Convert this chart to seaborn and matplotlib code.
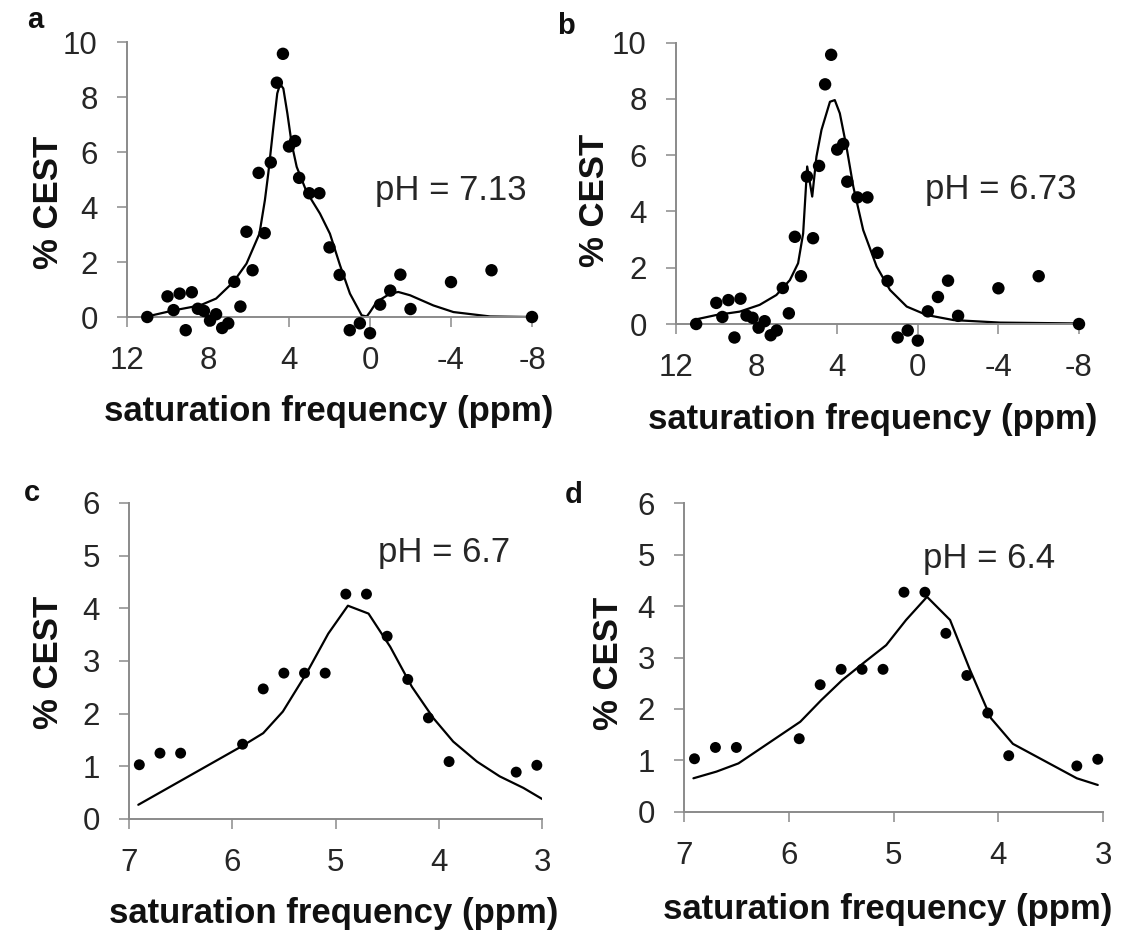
import matplotlib
matplotlib.use('Agg')
import matplotlib.pyplot as plt
import seaborn as sns

# measured CEST spectra, panels a/b share the same points
x_ab = [11.0, 10.0, 9.7, 9.4, 9.1, 8.8, 8.5, 8.2, 7.9, 7.6, 7.3, 7.0, 6.7, 6.4, 6.1, 5.8,
        5.5, 5.2, 4.9, 4.6, 4.3, 4.0, 3.7, 3.5, 3.0, 2.5, 2.0, 1.5, 1.0, 0.5, 0.0, -0.5,
        -1.0, -1.5, -2.0, -4.0, -6.0, -8.0]
y_ab = [0.0, 0.75, 0.25, 0.85, -0.48, 0.9, 0.3, 0.22, -0.13, 0.1, -0.4, -0.23, 1.28, 0.38,
        3.1, 1.7, 5.24, 3.05, 5.62, 8.52, 9.57, 6.2, 6.4, 5.06, 4.5, 4.5, 2.53, 1.53, -0.48,
        -0.23, -0.59, 0.45, 0.96, 1.54, 0.29, 1.27, 1.7, 0.0]

# fitted curves for a and b
xa_fit = [11.0, 9.7, 8.4, 7.6, 6.75, 6.1, 5.46, 5.19, 5.02, 4.77, 4.58, 4.44, 4.28, 4.08,
          3.87, 3.62, 3.13, 2.47, 1.98, 1.48, 0.99, 0.41, 0.16, 0.0, -0.33, -0.99, -1.4,
          -1.98, -3.13, -4.12, -5.93, -8.0]
ya_fit = [0.02, 0.24, 0.42, 0.67, 1.27, 1.94, 3.03, 4.25, 5.24, 6.92, 8.13, 8.47, 8.31, 7.40,
          6.31, 5.46, 4.55, 3.76, 3.03, 1.88, 0.85, 0.06, 0.02, 0.18, 0.55, 0.85, 0.91,
          0.79, 0.42, 0.18, 0.02, 0.0]
xb_fit = [10.97, 10.0, 8.84, 7.85, 7.02, 6.35, 5.94, 5.69, 5.49, 5.24, 5.03, 4.78, 4.36, 4.12,
          3.87, 3.54, 3.2, 2.71, 2.04, 1.38, 0.55, -0.44, -1.77, -4.09, -8.0]
yb_fit = [0.17, 0.32, 0.44, 0.68, 1.03, 1.56, 2.16, 3.22, 5.6, 4.53, 5.95, 6.9, 7.9, 7.96,
          7.49, 6.30, 4.88, 3.34, 2.04, 1.21, 0.62, 0.32, 0.14, 0.05, 0.02]

# panels c/d share the same points
x_cd = [6.9, 6.7, 6.5, 5.9, 5.7, 5.5, 5.3, 5.1, 4.9, 4.7, 4.5, 4.3, 4.1, 3.9, 3.25, 3.05]
y_cd = [1.03, 1.25, 1.25, 1.42, 2.47, 2.77, 2.77, 2.77, 4.27, 4.27, 3.47, 2.65, 1.92, 1.09,
        0.89, 1.02]
xc_fit = [6.91, 5.90, 5.70, 5.51, 5.28, 5.07, 4.88, 4.68, 4.47, 4.26, 4.05, 3.86, 3.63, 3.41,
          3.18, 2.99]
yc_fit = [0.27, 1.39, 1.63, 2.04, 2.77, 3.52, 4.05, 3.90, 3.27, 2.51, 1.91, 1.47, 1.09, 0.81,
          0.59, 0.37]
xd_fit = [6.91, 6.69, 6.48, 5.89, 5.69, 5.49, 5.27, 5.07, 4.88, 4.68, 4.46, 4.27, 4.07, 3.86,
          3.25, 3.05]
yd_fit = [0.65, 0.78, 0.94, 1.75, 2.17, 2.56, 2.92, 3.24, 3.73, 4.18, 3.73, 2.76, 1.82, 1.32,
          0.65, 0.52]

xticks_ab = [12, 8, 4, 0, -4, -8]
xtick_labels_ab = ['12', '8', '4', '0', '-4', '-8']
yticks_ab = [0, 2, 4, 6, 8, 10]
xticks_cd = [7, 6, 5, 4, 3]
yticks_cd = [0, 1, 2, 3, 4, 5, 6]
ph_labels = ['pH = 7.13', 'pH = 6.73', 'pH = 6.7', 'pH = 6.4']
panel_letters = ['a', 'b', 'c', 'd']

sns.set_style('ticks')
plt.rcParams['font.family'] = ['Liberation Sans', 'DejaVu Sans']

W, H = 1124, 933
fig = plt.figure(figsize=(W / 100, H / 100), dpi=100)
gray = '#8a8a8a'
txt = '#262626'


def axes_px(x0, x1, ytop, ybot):
    return fig.add_axes([x0 / W, 1 - ybot / H, (x1 - x0) / W, (ybot - ytop) / H])


def style(ax, xlim, ylim, ymax, xticks, xlabels, yticks):
    ax.set_xlim(*xlim)
    ax.set_ylim(*ylim)
    for s in ['top', 'right']:
        ax.spines[s].set_visible(False)
    ax.spines['bottom'].set_position(('data', 0))
    ax.spines['left'].set_bounds(0, ymax)
    for s in ['left', 'bottom']:
        ax.spines[s].set_color(gray)
        ax.spines[s].set_linewidth(1.4)
    ax.set_xticks(xticks)
    ax.set_xticklabels(xlabels)
    ax.set_yticks(yticks)
    ax.tick_params(direction='out', length=7, width=1.1, color=gray,
                   labelsize=22.5, labelcolor=txt, pad=14)
    ax.set_xlabel('')
    ax.set_ylabel('')


def draw(ax, xs, ys, xf, yf, size):
    sns.lineplot(x=xf, y=yf, sort=False, estimator=None, color='black', lw=1.6, ax=ax)
    sns.scatterplot(x=xs, y=ys, color='black', s=size, edgecolor='none', ax=ax,
                    clip_on=False, zorder=3)


ax_a = axes_px(127, 532, 42, 336.25)
draw(ax_a, x_ab, y_ab, xa_fit, ya_fit, 80)
style(ax_a, (12, -8), (-0.7, 10), 10, xticks_ab, xtick_labels_ab, yticks_ab)
ax_a.text(-0.25, 4.25, ph_labels[0], fontsize=25, color=txt, ha='left', va='baseline')

ax_b = axes_px(676, 1079, 42.7, 343.7)
draw(ax_b, x_ab, y_ab, xb_fit, yb_fit, 80)
style(ax_b, (12, -8), (-0.7, 10), 10, xticks_ab, xtick_labels_ab, yticks_ab)
ax_b.text(-0.36, 4.43, ph_labels[1], fontsize=25, color=txt, ha='left', va='baseline')

ax_c = axes_px(129, 542, 503, 819)
draw(ax_c, x_cd, y_cd, xc_fit, yc_fit, 62)
style(ax_c, (7, 3), (0, 6), 6, xticks_cd, [str(t) for t in xticks_cd], yticks_cd)
ax_c.text(4.59, 4.88, ph_labels[2], fontsize=25, color=txt, ha='left', va='baseline')

ax_d = axes_px(684, 1103, 503.3, 811.7)
draw(ax_d, x_cd, y_cd, xd_fit, yd_fit, 62)
style(ax_d, (7, 3), (0, 6), 6, xticks_cd, [str(t) for t in xticks_cd], yticks_cd)
ax_d.text(4.72, 4.75, ph_labels[3], fontsize=25, color=txt, ha='left', va='baseline')


# axis titles and panel letters, placed in pixel positions
def ftext(px, py, s, **kw):
    fig.text(px / W, 1 - py / H, s, ha='center', va='center', fontweight='bold',
             color='#111111', **kw)


for px, py in [(48, 202), (595, 200), (48, 662), (608, 663)]:
    ftext(px, py, '% CEST', fontsize=25, rotation=90)
for px, py in [(329, 411), (873, 419), (334, 913), (888, 910)]:
    ftext(px, py, 'saturation frequency (ppm)', fontsize=25)
for (px, py), s in zip([(35, 20), (566, 26), (32, 493), (574, 495)], panel_letters):
    ftext(px, py, s, fontsize=21)

fig.savefig('out.png', dpi=100)
